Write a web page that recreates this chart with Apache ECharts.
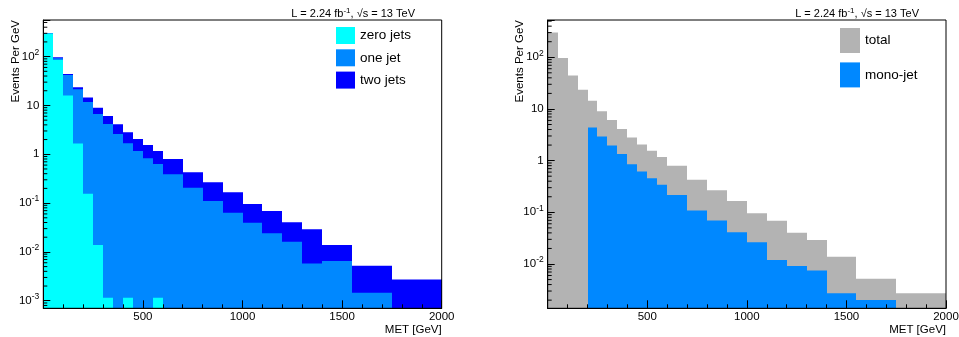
<!DOCTYPE html>
<html><head><meta charset="utf-8">
<script src="https://cdn.jsdelivr.net/npm/echarts@6/dist/echarts.min.js"></script>
<style>html,body{margin:0;padding:0;background:#fff}#c{width:959px;height:337px}</style>
</head><body><div id="c"></div>
<script>
// MET bin edges [GeV]
const binEdges = [0,50,100,150,200,250,300,350,400,450,500,550,600,700,800,900,1000,1100,1200,1300,1400,1550,1750,2000];
// Events per GeV, per jet-multiplicity component (stacked in left panel)
const zeroJets = [296, 85, 15.9, 1.67, 0.156, 0.0138, 0.00115, 0, 0.00115, 0, 0, 0.00115, 0, 0, 0, 0, 0, 0, 0, 0, 0, 0, 0];
const oneJet   = [3, 7.5, 26.2, 19.7, 11.6, 6.69, 4.17, 2.60, 1.67, 1.17, 0.826, 0.631, 0.388, 0.207, 0.110, 0.0635, 0.0396, 0.0240, 0.0162, 0.00582, 0.00650, 0.00146, 0];
const twoJets  = [1, 4.5, 2.1, 2.2, 2.7, 2.3, 1.93, 1.5, 1.14, 0.89, 0.724, 0.538, 0.412, 0.220, 0.156, 0.1025, 0.0561, 0.0447, 0.0241, 0.0232, 0.0073, 0.00375, 0.00273];
// mono-jet selection (right panel)
const monoJet  = [0, 0, 0, 0, 4.37, 2.93, 1.96, 1.35, 0.851, 0.615, 0.457, 0.340, 0.217, 0.108, 0.0693, 0.0412, 0.0264, 0.0120, 0.00920, 0.00748, 0.00272, 0.00202, 0];
// axis ranges
const xRange = [0, 2000];
const leftYRange = [7.0e-4, 562];
const rightYRange = [1.39e-3, 526];
const legendLeft = ['zero jets', 'one jet', 'two jets'];
const legendRight = ['total', 'mono-jet'];
const headerText = 'L = 2.24 fb{sup|-1}, \u221As = 13 TeV';
const xTitle = 'MET [GeV]';
const yTitle = 'Events Per GeV';

const FONT = 'Liberation Sans, Arial, Helvetica, sans-serif';
const C = { zero: '#00ffff', one: '#0088ff', two: '#0000ff', total: '#b3b3b3', mono: '#0088ff' };
const GRID = [
  { left: 43.3, top: 20, width: 398.4, height: 288.3 },
  { left: 547.7, top: 20, width: 398.3, height: 288.3 }
];

const cum01 = zeroJets.map((v, i) => v + oneJet[i]);
const cumAll = cum01.map((v, i) => v + twoJets[i]);

function histSeries(name, values, color, idx, yMin) {
  return {
    type: 'custom', name, xAxisIndex: idx, yAxisIndex: idx, z: 2, clip: true,
    itemStyle: { color },
    dimensions: ['lo', 'hi', 'v'],
    encode: { x: [0, 1], y: 2 },
    data: values.map((v, i) => [binEdges[i], binEdges[i + 1], v > 0 ? v : '-']),
    renderItem: (params, api) => {
      const v = api.value(2);
      if (!(v > 0)) return;
      const a = api.coord([api.value(0), v]);
      const b = api.coord([api.value(1), yMin]);
      const x0 = Math.round(a[0]), x1 = Math.round(b[0]);
      return { type: 'rect', shape: { x: x0, y: a[1], width: x1 - x0, height: b[1] - a[1] }, style: { fill: color } };
    }
  };
}
function minorTicks(idx, range) {
  const vals = [];
  for (let e = -5; e <= 4; e++) for (let m = 2; m <= 9; m++) {
    const v = m * Math.pow(10, e);
    if (v > range[0] && v < range[1]) vals.push([xRange[0], v]);
  }
  return {
    type: 'custom', xAxisIndex: idx, yAxisIndex: idx, z: 6, silent: true, data: vals,
    encode: { x: 0, y: 1 },
    renderItem: (p, api) => {
      const c = api.coord([api.value(0), api.value(1)]);
      return { type: 'line', shape: { x1: c[0], y1: c[1], x2: c[0] + 4, y2: c[1] }, style: { stroke: '#000', lineWidth: 1 } };
    }
  };
}
function logLabel(v) {
  const e = Math.log10(v), r = Math.round(e);
  if (Math.abs(e - r) > 1e-6) return '';
  if (r === 0) return '1';
  if (r === 1) return '10';
  return '10{sup|' + r + '}';
}
function xAxis(idx) {
  return {
    type: 'value', gridIndex: idx, min: xRange[0], max: xRange[1], interval: 500, z: 5,
    axisLine: { show: true, lineStyle: { color: '#000', width: 1 } },
    axisTick: { show: true, inside: true, length: 8, lineStyle: { color: '#000' } },
    minorTick: { show: true, splitNumber: 5, length: 4, lineStyle: { color: '#000' } },
    splitLine: { show: false },
    axisLabel: { showMinLabel: false, formatter: v => String(v), color: '#000', fontSize: 11.5, fontFamily: FONT, margin: 3 },
    name: xTitle, nameLocation: 'end', nameGap: 0,
    nameTextStyle: { align: 'right', verticalAlign: 'top', padding: [16, 0, 0, 0], color: '#000', fontSize: 11.5, fontFamily: FONT }
  };
}
function yAxis(idx, range) {
  return {
    type: 'log', logBase: 10, gridIndex: idx, min: range[0], max: range[1], z: 5,
    axisLine: { show: true, lineStyle: { color: '#000', width: 1 } },
    axisTick: { show: true, inside: true, length: 7, lineStyle: { color: '#000' } },
    splitLine: { show: false },
    axisLabel: {
      formatter: logLabel, color: '#000', fontSize: 11.5, fontFamily: FONT, margin: 4,
      rich: { sup: { fontSize: 8.5, fontFamily: FONT, color: '#000', padding: [0, 0, 8, 0] } }
    }
  };
}
const titleStyle = {
  fontSize: 11, fontWeight: 'normal', color: '#000', fontFamily: FONT,
  rich: { sup: { fontSize: 8, fontFamily: FONT, color: '#000', padding: [0, 0, 6, 0] } }
};
function yTitleGraphic(idx) {
  return {
    type: 'text', x: GRID[idx].left - 27.5, y: GRID[idx].top, rotation: Math.PI / 2, silent: true,
    style: { text: yTitle, align: 'right', verticalAlign: 'middle', fill: '#000', fontSize: 11.5, fontFamily: FONT }
  };
}

const chart = echarts.init(document.getElementById('c'), null, { renderer: 'canvas' });
chart.setOption({
  animation: false,
  backgroundColor: '#fff',
  title: [
    { text: headerText, right: 544, top: 7, padding: 0, textStyle: titleStyle },
    { text: headerText, right: 40, top: 7, padding: 0, textStyle: titleStyle }
  ],
  legend: [
    { data: legendLeft, orient: 'vertical', left: 336, top: 27, padding: 0, icon: 'rect', itemWidth: 19, itemHeight: 17, itemGap: 5.3,
      textStyle: { fontSize: 13.5, fontFamily: FONT, color: '#000' }, selectedMode: false },
    { data: legendRight, orient: 'vertical', left: 840, top: 28, padding: 0, icon: 'rect', itemWidth: 20, itemHeight: 25, itemGap: 9.4,
      textStyle: { fontSize: 13.5, fontFamily: FONT, color: '#000' }, selectedMode: false }
  ],
  grid: GRID.map(g => Object.assign({ show: true, borderColor: '#000', borderWidth: 1, backgroundColor: 'transparent', z: 5, outerBoundsMode: 'none', containLabel: false }, g)),
  xAxis: [xAxis(0), xAxis(1)],
  yAxis: [yAxis(0, leftYRange), yAxis(1, rightYRange)],
  graphic: [yTitleGraphic(0), yTitleGraphic(1)],
  series: [
    histSeries('two jets', cumAll, C.two, 0, leftYRange[0]),
    histSeries('one jet', cum01, C.one, 0, leftYRange[0]),
    histSeries('zero jets', zeroJets, C.zero, 0, leftYRange[0]),
    histSeries('total', cumAll, C.total, 1, rightYRange[0]),
    histSeries('mono-jet', monoJet, C.mono, 1, rightYRange[0]),
    minorTicks(0, leftYRange),
    minorTicks(1, rightYRange)
  ]
});
</script>
</body></html>
